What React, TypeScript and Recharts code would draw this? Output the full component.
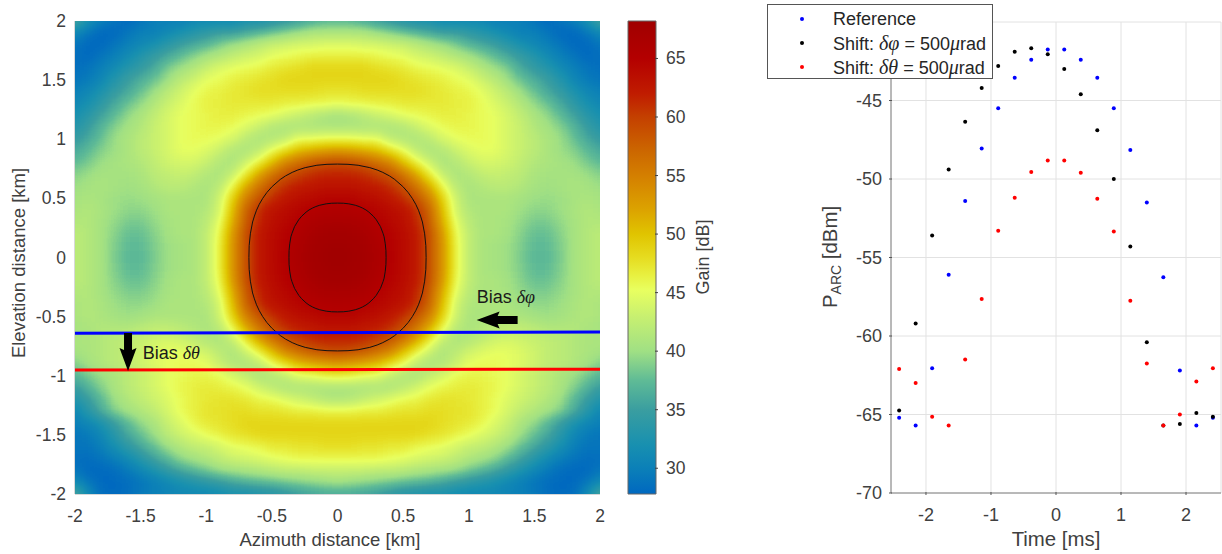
import React from 'react';
import { ScatterChart, Scatter, XAxis, YAxis, CartesianGrid, Legend, ReferenceArea } from 'recharts';

// Gain map. Each row runs from azimuth 0 out to 2 km, the left half mirrors it.
const elevationValues = [2, 1.9, 1.8, 1.7, 1.6, 1.5, 1.4, 1.3, 1.2, 1.1, 1, 0.9, 0.8, 0.7, 0.6, 0.5, 0.4, 0.3, 0.2, 0.1, 0,
    -0.1, -0.2, -0.3, -0.4, -0.5, -0.6, -0.7, -0.8, -0.9, -1, -1.1, -1.2, -1.3, -1.4, -1.5, -1.6, -1.7, -1.8, -1.9, -2];
const azimuthValues = [0, 0.1, 0.2, 0.3, 0.4, 0.5, 0.6, 0.7, 0.8, 0.9, 1, 1.1, 1.2, 1.3, 1.4, 1.5, 1.6, 1.7, 1.8, 1.9, 2];
const gainRows = [
    [37, 37, 36, 35, 34, 33, 32, 32, 31, 31, 31, 31, 30, 30, 30, 29, 28, 29, 30, 32, 36],
    [41, 41, 41, 40, 39, 38, 37, 36, 35, 35, 34, 33, 32, 31, 30, 30, 29, 28, 28, 29, 31],
    [44.5, 44.5, 44, 44, 43.5, 43, 42, 41, 40, 38.5, 37, 36, 35, 33.5, 32, 31, 30, 29, 28, 28, 29],
    [46.5, 46.5, 46.5, 46, 45.5, 45, 44, 43.5, 42.5, 41.5, 40.5, 39, 37.5, 36, 34.5, 33, 31.5, 30, 29, 28, 28.5],
    [48.5, 48.5, 48.5, 48, 47.5, 47, 46, 45.5, 45, 44.5, 43, 41.5, 40, 38.5, 36, 34.5, 33, 31.5, 30, 29, 28.5],
    [48.5, 48.5, 48.5, 48.5, 48.5, 48, 47.5, 47, 46.5, 45.5, 45, 43.5, 42, 40, 38, 36.5, 35, 33, 31, 29.5, 29],
    [47.5, 47.5, 48, 48, 48, 48, 48, 47.5, 47, 46.5, 46, 45, 43.5, 42, 40, 38, 36, 34.5, 32.5, 31, 30],
    [45.5, 46, 46, 46.5, 46.5, 47, 47, 47, 47, 46.5, 46.5, 45.5, 44.5, 43, 41.5, 39.5, 38, 36, 34, 32, 31],
    [40.5, 41, 42, 43, 44, 45, 45.5, 46, 46.5, 46.5, 46, 45.5, 45, 44, 42.5, 41, 39.5, 37.5, 35.5, 33.5, 32],
    [41, 41, 41, 41, 41, 41.5, 43, 44.5, 45.5, 46, 46, 45.5, 45, 44, 43, 41.5, 40.5, 39, 37, 35, 33],
    [45.5, 45.5, 45, 45, 42.5, 41.5, 41, 42, 44, 45, 45.5, 45.5, 45, 44, 43, 42, 41, 40, 38, 36, 34.5],
    [53, 52.5, 51.5, 50.5, 48, 45.5, 42.5, 41, 41.5, 43, 44.5, 45, 45, 44, 43, 42, 41, 40, 39, 37.5, 36],
    [59.5, 59, 58, 56.5, 54.5, 50.5, 46.5, 43.5, 41, 41.5, 43, 44, 44, 43.5, 42.5, 41.5, 41, 40.5, 40, 38.5, 37.5],
    [61.5, 61.5, 61, 60, 58.5, 56, 52, 47, 43, 41, 41.5, 42.5, 43, 42.5, 42, 41, 40.5, 40.5, 40.5, 40, 39],
    [63, 63, 62.5, 62, 61, 59, 56, 51.5, 46, 42, 41, 41.5, 42, 42, 41.5, 40.5, 40.2, 40.5, 41, 40.5, 40],
    [64.5, 64.5, 64, 63.5, 62.5, 61, 58.5, 55, 49, 43.5, 41, 41, 41, 41, 40.5, 40, 39.8, 40, 40.5, 41, 40.5],
    [65.5, 65.4, 65, 64.6, 63.8, 63, 61, 57.5, 50.5, 44, 41.5, 41, 41, 41, 40, 39.3, 39.3, 40, 40.8, 41.5, 41],
    [66.5, 66.5, 66, 65, 64.3, 63.5, 61.5, 58, 51.5, 45, 42, 41, 41, 40.5, 39.5, 38.5, 38.5, 39.5, 40.5, 41.5, 41.5],
    [67.5, 67.3, 66.7, 65.7, 64.8, 63.8, 62.3, 59, 53, 46, 42.5, 41, 41, 40.3, 39, 37.8, 37.8, 39, 40.5, 41.5, 42],
    [68, 67.8, 67.2, 66.2, 65.1, 64, 62.5, 59, 53.5, 46.5, 42.5, 41, 40.5, 40, 38.7, 37.5, 37.5, 38.7, 40.5, 41.5, 42],
    [68.2, 68, 67.3, 66.4, 65.2, 64, 62.5, 59, 53.5, 46.5, 42.5, 41, 40.5, 40, 38.5, 37.3, 37.3, 38.5, 40.5, 41.5, 42],
    [68, 67.8, 67.2, 66.2, 65.1, 64, 62.5, 59, 53.5, 46.5, 42.5, 41, 40.5, 40, 38.7, 37.5, 37.5, 38.7, 40.5, 41.5, 42],
    [67.5, 67.3, 66.7, 65.7, 64.8, 63.8, 62.3, 59, 53, 46, 42.5, 41, 41, 40.3, 39, 38, 38, 39, 40.5, 41.5, 42],
    [66.5, 66.5, 66, 65, 64.3, 63.5, 61.5, 58, 51.5, 45, 42, 41, 41, 40.5, 39.5, 38.8, 38.8, 39.5, 40.5, 41.5, 41.5],
    [65.5, 65.4, 65, 64.6, 63.8, 63, 61, 57.5, 50.5, 44, 41.5, 41, 41, 41, 40, 39.6, 39.6, 40, 40.8, 41.5, 41],
    [64.5, 64.5, 64, 63.5, 62.5, 61, 58.5, 55, 49, 43.5, 41, 41, 41, 41, 41, 40.3, 40, 40.3, 41, 41.5, 41],
    [63, 63, 62.5, 62, 61, 59, 56, 51.5, 46, 42, 41, 41.5, 42, 42.5, 42.5, 42, 41.5, 41.5, 41.5, 41, 40.5],
    [61.5, 61.5, 61, 60, 58.5, 56, 52, 47, 43, 41, 41.5, 42.5, 43.5, 44, 43.5, 43, 42.5, 42, 41.5, 41, 41],
    [59.5, 59, 58, 56.5, 54.5, 50.5, 46.5, 43.5, 41, 42, 43.5, 44.5, 45, 45, 44.5, 43.5, 42.5, 42, 41.5, 41, 40.5],
    [53, 52.5, 51.5, 50.5, 48, 45.5, 42.5, 41, 41.5, 43, 45, 45.5, 45.5, 45, 44.5, 43.5, 42.5, 42, 41.5, 40.5, 39],
    [47, 46.5, 45.5, 45, 43, 41.5, 41, 42.5, 44, 45.5, 46, 46, 45.5, 45, 44, 43, 42, 41, 40, 38.5, 37],
    [41, 41, 41, 41, 41, 42, 43.5, 45, 46, 46.5, 47, 46.5, 46, 45, 44, 43, 42, 41, 39, 37, 35],
    [41, 41.5, 42.5, 43.5, 44.5, 45.5, 46, 47, 47.5, 47.5, 47, 46.5, 45.5, 44.5, 43.5, 42.5, 41.5, 40, 37.5, 35, 33],
    [46, 46, 46.5, 46.5, 47, 47.5, 47.5, 48, 48, 47.5, 47.5, 46.5, 45.5, 44, 42.5, 41.5, 40.5, 39, 36.5, 33.5, 31],
    [48.5, 48.5, 48.5, 48.5, 48.5, 48.5, 48.5, 48.5, 48, 47.5, 47, 46, 44.5, 43, 41, 39.5, 37.5, 35, 32.5, 31, 30],
    [48.5, 48.5, 48.5, 48.5, 48.5, 48.5, 48.5, 48, 47.5, 46.5, 45.5, 44.5, 43.5, 42, 40, 38, 36, 33.5, 31, 29.5, 29],
    [48, 48, 47.5, 47.5, 47, 47, 46, 45.5, 45, 44, 43, 42.5, 41.5, 40, 38, 36, 34, 32, 30, 29, 29],
    [46, 46, 46, 46, 45.5, 45, 44.5, 44, 43.5, 42.5, 41.5, 40.5, 39.5, 37.5, 35.5, 33.5, 31.5, 30, 29, 28.5, 28.5],
    [43, 43, 43, 42.5, 42.5, 42, 41.5, 41, 40.5, 40, 38.5, 37.5, 36, 34.5, 32.5, 31, 29.5, 28.5, 28, 28, 29],
    [40.5, 40, 39.5, 39, 38.5, 38, 37.5, 37, 36, 35, 34, 33, 32, 31, 30, 29, 28.5, 28, 28, 29, 31],
    [36, 36, 35.5, 35, 34, 33, 32.5, 32, 32, 31.5, 31, 31, 31, 30.5, 30, 29.5, 28.5, 28, 28.5, 31, 36],
];

// Colour bar
const GAIN_MIN = 27.8;
const GAIN_MAX = 68.2;
const gainStops = [27.8, 30, 32, 35, 37.5, 40, 43, 45.2, 46.5, 48, 50, 52, 55, 57, 60, 62, 65, 68.2];
const colorStops = ['#0068c0', '#0b80b8', '#1890b0', '#3a9ea0', '#5fbb96', '#a0e084', '#c8f070', '#e8ff60', '#e8f040', '#e6dc20', '#e0c400', '#dca400', '#d47f00', '#cc6800', '#c44000', '#c01c00', '#b40000', '#a00000'];
const gainTicks = [30, 35, 40, 45, 50, 55, 60, 65];

// Contours, top-right part then mirrored
const outerContour = [[0, 0.79], [0.08, 0.788], [0.157, 0.78], [0.246, 0.76], [0.302, 0.74], [0.345, 0.72], [0.396, 0.69], [0.436, 0.66], [0.498, 0.6], [0.538, 0.55], [0.57, 0.5], [0.596, 0.45], [0.617, 0.4], [0.633, 0.35], [0.647, 0.3], [0.664, 0.2], [0.673, 0.1], [0.675, 0]];
const innerContour = [[0, 0.46], [0.044, 0.459], [0.086, 0.454], [0.135, 0.442], [0.165, 0.431], [0.189, 0.419], [0.217, 0.402], [0.239, 0.384], [0.273, 0.349], [0.295, 0.32], [0.327, 0.262], [0.347, 0.204], [0.355, 0.175], [0.364, 0.116], [0.369, 0.058], [0.37, 0]];

const blueLine = [{ x: -2, y: -0.64 }, { x: 2, y: -0.63 }];
const redLine = [{ x: -2, y: -0.951 }, { x: 2, y: -0.945 }];
const biasTexts = [{ x: 1.06, y: -0.334, symbol: 'δφ' }, { x: -1.484, y: -0.808, symbol: 'δθ' }];
const leftArrow = [{ x: 1.06, y: -0.529 }];
const downArrow = [{ x: -1.596, y: -0.96 }];

const mapTicks = [-2, -1.5, -1, -0.5, 0, 0.5, 1, 1.5, 2];

// Right panel
const timeValues = [-2.413, -2.159, -1.905, -1.651, -1.397, -1.143, -0.889, -0.635, -0.381, -0.127, 0.127, 0.381, 0.635, 0.889, 1.143, 1.397, 1.651, 1.905, 2.159, 2.413];
const referencePower = [-65.2, -65.7, -62.05, -56.1, -51.4, -48.05, -45.5, -43.55, -42.4, -41.75, -41.75, -42.4, -43.55, -45.5, -48.15, -51.5, -56.25, -62.2, -65.7, -65.2];
const shiftPhiPower = [-64.75, -59.2, -53.6, -49.4, -46.35, -44.2, -42.8, -41.9, -41.67, -42.05, -43, -44.6, -46.9, -50, -54.3, -60.4, -65.7, -65.6, -64.9, -65.15];
const shiftThetaPower = [-62.1, -63, -65.15, -65.7, -61.5, -57.65, -53.3, -51.2, -49.55, -48.82, -48.82, -49.6, -51.25, -53.35, -57.75, -61.75, -65.7, -65, -62.9, -62.05];
const timeTicks = [-2, -1, 0, 1, 2];
const powerTicks = [-70, -65, -60, -55, -50, -45]; // the -40 label sits under the legend in the original
const seriesNames = ['Reference', 'Shift: δφ = 500μrad', 'Shift: δθ = 500μrad'];
const seriesColors = ['#0000ff', '#000000', '#ff0000'];

const TEXT = '#404040';
const SANS = '"Liberation Sans", Arial, sans-serif';
const SERIF = '"Liberation Serif", "Times New Roman", serif';
const TICK_SIZE = 17.5;
const LABEL_SIZE = 18.5;

const channel = (s: string, p: number) => parseInt(s.slice(p, p + 2), 16);

// one channel of the colour map at a gain value, 0..1
const gainChannel = (gain: number, p: number) => {
    let i = 0;
    while (i < gainStops.length - 2 && gain > gainStops[i + 1]) i++;
    const t = Math.max(0, Math.min(1, (gain - gainStops[i]) / (gainStops[i + 1] - gainStops[i])));
    const a = channel(colorStops[i], p), b = channel(colorStops[i + 1], p);
    return ((a + (b - a) * t) / 255).toFixed(3);
};

// The cells are painted as gray levels and the filter below smooths them, then turns levels into the colour map.
const tableLevels = Array.from({ length: 162 }, (_, i) => GAIN_MIN + ((GAIN_MAX - GAIN_MIN) * i) / 161);
const tableFor = (p: number) => tableLevels.map((g) => gainChannel(g, p)).join(' ');

const gainGray = (gain: number) => {
    const g = Math.round((255 * (gain - GAIN_MIN)) / (GAIN_MAX - GAIN_MIN));
    return `rgb(${g},${g},${g})`;
};

const heatCells = elevationValues.flatMap((y, r) =>
    azimuthValues.flatMap((x, c) => {
        const gain = gainRows[r][c];
        return x === 0 ? [{ x, y, gain }] : [{ x: -x, y, gain }, { x, y, gain }];
    })
);

const closeContour = (half: number[][]) => {
    const right = [...half, ...half.slice(0, -1).reverse().map(([x, y]) => [x, -y])];
    const left = right.slice(1, -1).reverse().map(([x, y]) => [-x, y]);
    return [...right, ...left, right[0]].map(([x, y]) => ({ x, y }));
};

const powerSeries = (values: number[]) => timeValues.map((x, i) => ({ x, y: values[i] }));

const CELL_W = 525 / 40;
const CELL_H = 473 / 40;
const BLEED = 20;

const HeatCell = (props: any) => {
    const { cx, cy, payload } = props;
    const l = payload.x === -2 ? BLEED : 0;
    const r = payload.x === 2 ? BLEED : 0;
    const t = payload.y === 2 ? BLEED : 0;
    const b = payload.y === -2 ? BLEED : 0;
    return (
        <rect
            x={cx - CELL_W / 2 - l - 0.5}
            y={cy - CELL_H / 2 - t - 0.5}
            width={CELL_W + l + r + 1}
            height={CELL_H + t + b + 1}
            fill={gainGray(payload.gain)}
        />
    );
};

const NoMark = () => null;

const BiasText = (props: any) => (
    <text x={props.cx} y={props.cy + 6} fontSize={18} fill="#1a1a1a" fontFamily={SANS}>
        Bias <tspan fontFamily={SERIF} fontStyle="italic">{props.payload.symbol}</tspan>
    </text>
);

const LeftArrowMark = (props: any) => {
    const { cx, cy } = props;
    return <path d={`M${cx} ${cy}L${cx + 23} ${cy - 8.5}L${cx + 21} ${cy - 4}H${cx + 41}V${cy + 4}H${cx + 21}L${cx + 23} ${cy + 8.5}Z`} fill="#000" />;
};

const DownArrowMark = (props: any) => {
    const { cx, cy } = props;
    return <path d={`M${cx} ${cy}L${cx - 8.5} ${cy - 23}L${cx - 4} ${cy - 21}V${cy - 38}H${cx + 4}V${cy - 21}L${cx + 8.5} ${cy - 23}Z`} fill="#000" />;
};

const BottomTick = (props: any) => (
    <text x={props.x} y={props.y + 26} textAnchor="middle" fontSize={props.size || TICK_SIZE} fill={TEXT} fontFamily={SANS}>{props.payload.value}</text>
);

const LeftTick = (props: any) => (
    <text x={props.x - 7} y={props.y + 6} textAnchor="end" fontSize={props.size || TICK_SIZE} fill={TEXT} fontFamily={SANS}>{props.payload.value}</text>
);

const ColorbarTick = (props: any) => (
    <g>
        <line x1={props.x - 3} x2={props.x} y1={props.y} y2={props.y} stroke="#404040" />
        <text x={props.x + 8} y={props.y + 6} fontSize={TICK_SIZE} fill={TEXT} fontFamily={SANS}>{props.payload.value}</text>
    </g>
);

// inward tick marks like the original axes
const PowerBottomTick = (props: any) => (
    <g>
        <line x1={props.x} x2={props.x} y1={props.y} y2={props.y - 3} stroke="#555" />
        <BottomTick {...props} size={18} />
    </g>
);
const PowerLeftTick = (props: any) => (
    <g>
        <line x1={props.x} x2={props.x + 3} y1={props.y} y2={props.y} stroke="#555" />
        <LeftTick {...props} size={18} />
    </g>
);
const TopTickMark = (props: any) => <line x1={props.x} x2={props.x} y1={props.y} y2={props.y + 3} stroke="#555" />;
const RightTickMark = (props: any) => <line x1={props.x} x2={props.x - 3} y1={props.y} y2={props.y} stroke="#555" />;

const Dot = (props: any) => <circle cx={props.cx} cy={props.cy} r={2} fill={props.fill} />;

const LegendBox: React.FC<any> = () => (
    <div style={{ width: 226, height: 75, boxSizing: 'border-box', background: '#fff', border: '1px solid #555', fontFamily: SANS, fontSize: 18, color: '#262626', position: 'relative' }}>
        {seriesNames.map((name, i) => {
            const match = name.match(/^(Shift: )(.+)( = 500)(.)(rad)$/);
            return (
                <div key={name} style={{ position: 'absolute', left: 65, top: 2.5 + i * 24, lineHeight: '22px', whiteSpace: 'nowrap' }}>
                    <span style={{ position: 'absolute', left: -33, top: 9, width: 4, height: 4, borderRadius: 2, background: seriesColors[i] }} />
                    {match ? (
                        <>
                            {match[1]}
                            <i style={{ fontFamily: SERIF, fontSize: 20 }}>{match[2]}</i>
                            {match[3]}
                            <i style={{ fontFamily: SERIF, fontSize: 20 }}>{match[4]}</i>
                            {match[5]}
                        </>
                    ) : name}
                </div>
            );
        })}
    </div>
);

const layer: React.CSSProperties = { position: 'absolute', top: 0 };

export default function App() {
    const gradientStops = [...gainStops].reverse();
    return (
        <div style={{ position: 'absolute', left: 0, top: 0, width: 1222, height: 554, background: '#fff', fontFamily: SANS }}>
            <style>{`.heat-layer { filter: url(#heatBlur); clip-path: url(#heatClip); }`}</style>

            <div style={{ ...layer, left: 0 }}>
                <ScatterChart width={615} height={554} margin={{ top: 21, right: 15, bottom: 30, left: 30 }}>
                    <defs>
                        <filter id="heatBlur" filterUnits="userSpaceOnUse" x={0} y={0} width={615} height={554} colorInterpolationFilters="sRGB">
                            <feGaussianBlur stdDeviation={6} />
                            <feComponentTransfer>
                                <feFuncR type="table" tableValues={tableFor(1)} />
                                <feFuncG type="table" tableValues={tableFor(3)} />
                                <feFuncB type="table" tableValues={tableFor(5)} />
                            </feComponentTransfer>
                        </filter>
                        <clipPath id="heatClip" clipPathUnits="userSpaceOnUse">
                            <rect x={75} y={21} width={525} height={473} />
                        </clipPath>
                    </defs>
                    <XAxis type="number" dataKey="x" domain={[-2, 2]} ticks={mapTicks} interval={0} height={30} tickSize={0} tickLine={false} axisLine={{ stroke: '#b0b0b0' }} tick={BottomTick} />
                    <YAxis type="number" dataKey="y" domain={[-2, 2]} ticks={mapTicks} interval={0} width={45} tickSize={0} tickLine={false} axisLine={{ stroke: '#b0b0b0' }} tick={LeftTick} />
                    <Scatter className="heat-layer" data={heatCells} shape={HeatCell} isAnimationActive={false} />
                    <Scatter data={closeContour(outerContour)} line={{ stroke: '#111', strokeWidth: 1 }} shape={NoMark} isAnimationActive={false} />
                    <Scatter data={closeContour(innerContour)} line={{ stroke: '#111', strokeWidth: 1 }} shape={NoMark} isAnimationActive={false} />
                    <Scatter data={blueLine} line={{ stroke: '#0000ff', strokeWidth: 3 }} shape={NoMark} isAnimationActive={false} />
                    <Scatter data={redLine} line={{ stroke: '#ff0000', strokeWidth: 3 }} shape={NoMark} isAnimationActive={false} />
                    <Scatter data={leftArrow} shape={LeftArrowMark} isAnimationActive={false} />
                    <Scatter data={downArrow} shape={DownArrowMark} isAnimationActive={false} />
                    <Scatter data={biasTexts} shape={BiasText} isAnimationActive={false} />
                    <text x={330} y={546} textAnchor="middle" fontSize={LABEL_SIZE} fill={TEXT} fontFamily={SANS}>Azimuth distance [km]</text>
                    <text x={25} y={263} transform="rotate(-90 25 263)" textAnchor="middle" fontSize={LABEL_SIZE} fill={TEXT} fontFamily={SANS}>Elevation distance [km]</text>
                </ScatterChart>
            </div>

            <div style={{ ...layer, left: 615 }}>
                <ScatterChart width={115} height={554} margin={{ top: 21, right: 73, bottom: 60, left: 13 }}>
                    <defs>
                        <linearGradient id="gainGradient" x1="0" y1="0" x2="0" y2="1">
                            {gradientStops.map((g) => (
                                <stop key={g} offset={(GAIN_MAX - g) / (GAIN_MAX - GAIN_MIN)} stopColor={colorStops[gainStops.indexOf(g)]} />
                            ))}
                        </linearGradient>
                    </defs>
                    <XAxis type="number" dataKey="x" domain={[0, 1]} hide />
                    <YAxis type="number" dataKey="y" orientation="right" domain={[GAIN_MIN, GAIN_MAX]} ticks={gainTicks} interval={0} width={1} tickSize={0} tickLine={false} axisLine={false} tick={ColorbarTick} />
                    <ReferenceArea x1={0} x2={1} y1={GAIN_MIN} y2={GAIN_MAX} fill="url(#gainGradient)" fillOpacity={1} stroke="#666" strokeWidth={1} />
                    <Scatter data={gainTicks.map((y) => ({ x: 0.5, y }))} shape={NoMark} isAnimationActive={false} />
                    <text x={94} y={257} transform="rotate(-90 94 257)" textAnchor="middle" fontSize={18} fill={TEXT} fontFamily={SANS}>Gain [dB]</text>
                </ScatterChart>
            </div>

            <div style={{ ...layer, left: 760 }}>
                <ScatterChart width={462} height={554} margin={{ top: 22, right: 1, bottom: 31, left: 91 }}>
                    <CartesianGrid stroke="#e2e2e2" />
                    <XAxis type="number" dataKey="x" domain={[-2.538, 2.538]} ticks={timeTicks} interval={0} height={30} tickSize={0} tickLine={false} axisLine={{ stroke: '#808080' }} tick={PowerBottomTick} />
                    <XAxis xAxisId="top" orientation="top" type="number" domain={[-2.538, 2.538]} ticks={timeTicks} interval={0} height={0} tickSize={0} tickLine={false} axisLine={{ stroke: '#a0a0a0' }} tick={TopTickMark} />
                    <YAxis type="number" dataKey="y" domain={[-70, -40]} ticks={powerTicks} interval={0} width={40} tickSize={0} tickLine={false} axisLine={{ stroke: '#808080' }} tick={PowerLeftTick} />
                    <YAxis yAxisId="right" orientation="right" type="number" domain={[-70, -40]} ticks={powerTicks} interval={0} width={0} tickSize={0} tickLine={false} axisLine={{ stroke: '#a0a0a0' }} tick={RightTickMark} />
                    <Scatter name={seriesNames[0]} data={powerSeries(referencePower)} fill={seriesColors[0]} shape={Dot} isAnimationActive={false} />
                    <Scatter name={seriesNames[1]} data={powerSeries(shiftPhiPower)} fill={seriesColors[1]} shape={Dot} isAnimationActive={false} />
                    <Scatter name={seriesNames[2]} data={powerSeries(shiftThetaPower)} fill={seriesColors[2]} shape={Dot} isAnimationActive={false} />
                    <Legend layout="vertical" align="center" verticalAlign="middle" content={LegendBox} wrapperStyle={{ left: 7, top: 4, width: 226, height: 75 }} />
                    <text x={296} y={546} textAnchor="middle" fontSize={20.4} fill={TEXT} fontFamily={SANS}>Time [ms]</text>
                    <text x={77} y={257} transform="rotate(-90 77 257)" textAnchor="middle" fontSize={20.4} fill={TEXT} fontFamily={SANS}>
                        P<tspan dy={4} fontSize={14}>ARC</tspan><tspan dy={-4}> [dBm]</tspan>
                    </text>
                </ScatterChart>
            </div>
        </div>
    );
}
